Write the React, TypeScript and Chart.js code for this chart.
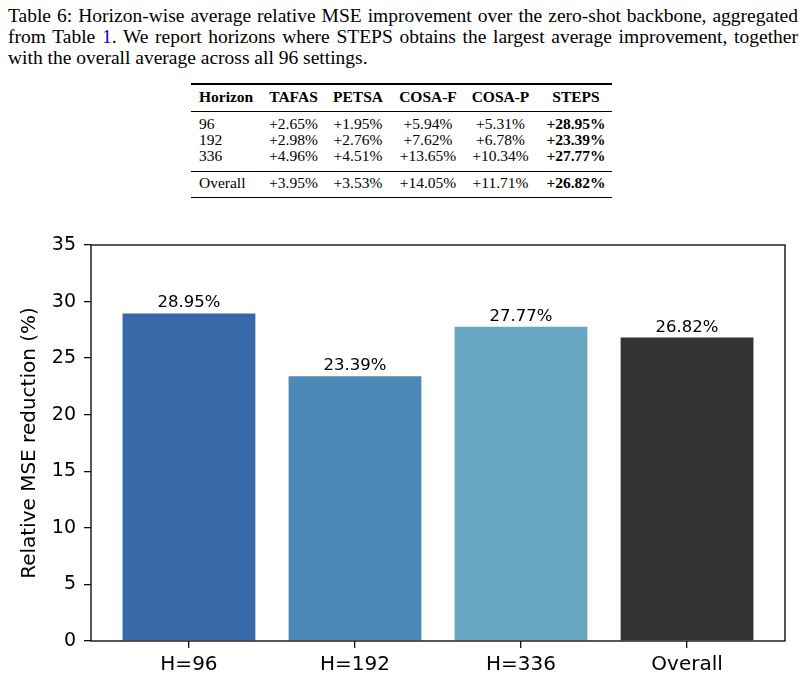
import React, { useEffect, useRef } from "react";
import { Chart, registerables } from "chart.js";

Chart.register(...registerables);

// ---- table data ----
const methods = ["TAFAS", "PETSA", "COSA-F", "COSA-P", "STEPS"];
const horizons = ["96", "192", "336"];
const tafas = [2.65, 2.98, 4.96];
const petsa = [1.95, 2.76, 4.51];
const cosaF = [5.94, 7.62, 13.65];
const cosaP = [5.31, 6.78, 10.34];
const steps = [28.95, 23.39, 27.77];
const overall = [3.95, 3.53, 14.05, 11.71, 26.82];

// ---- chart data ----
const barLabels = ["H=96", "H=192", "H=336", "Overall"];
const barValues = [28.95, 23.39, 27.77, 26.82];
const barColors = ["#3769a9", "#4d89b7", "#68a7bf", "#333333"];
const yTicks = [0, 5, 10, 15, 20, 25, 30, 35];

const SERIF = '"Liberation Serif", "Times New Roman", serif';
const SANS = '"DejaVu Sans", sans-serif';

const fmt = (v: number) => `+${v.toFixed(2)}%`;

// horizontal centres of the method columns, left edge of the first column
const colLeft = 199;
const colCenters = [293.5, 358, 428, 500.5, 576];
const rowBaselines = [129, 145, 161];
const headerBaseline = 102.5;
const overallBaseline = 188.5;

function Cell(props: { text: string; baseline: number; center?: number; left?: number; bold?: boolean }) {
  const { text, baseline, center, left, bold } = props;
  const style: React.CSSProperties = {
    position: "absolute",
    top: baseline - 13.5,
    lineHeight: "16px",
    fontSize: 15.5,
    fontFamily: SERIF,
    fontWeight: bold ? 700 : 400,
    whiteSpace: "nowrap",
    color: "#000",
  };
  if (center !== undefined) {
    style.left = center - 60;
    style.width = 120;
    style.textAlign = "center";
  } else {
    style.left = left;
  }
  return <div style={style}>{text}</div>;
}

function Rule(props: { y: number; h: number }) {
  return (
    <div
      style={{
        position: "absolute",
        left: 191,
        width: 421,
        top: props.y - props.h / 2,
        height: props.h,
        background: "#000",
      }}
    />
  );
}

function Caption() {
  const base: React.CSSProperties = {
    position: "absolute",
    left: 8,
    width: 790,
    fontFamily: SERIF,
    fontSize: 19.5,
    lineHeight: "21px",
    color: "#000",
  };
  const justified: React.CSSProperties = {
    ...base,
    textAlign: "justify",
    textAlignLast: "justify",
    wordSpacing: "-3px",
  };
  return (
    <>
      <div style={{ ...justified, top: 4.5 }}>
        Table 6: Horizon-wise average relative MSE improvement over the zero-shot backbone, aggregated
      </div>
      <div style={{ ...justified, top: 25.5 }}>
        from Table <span style={{ color: "#0000ee" }}>1</span>. We report horizons where STEPS obtains the largest
        average improvement, together
      </div>
      <div style={{ ...base, top: 46.5 }}>with the overall average across all 96 settings.</div>
    </>
  );
}

function ResultsTable() {
  const cols = [tafas, petsa, cosaF, cosaP, steps];
  return (
    <>
      <Rule y={84} h={1.6} />
      <Cell text="Horizon" baseline={headerBaseline} left={colLeft} bold />
      {methods.map((m, j) => (
        <Cell key={m} text={m} baseline={headerBaseline} center={colCenters[j]} bold />
      ))}
      <Rule y={111} h={1} />
      {horizons.map((h, i) => (
        <React.Fragment key={h}>
          <Cell text={h} baseline={rowBaselines[i]} left={colLeft} />
          {cols.map((c, j) => (
            <Cell
              key={j}
              text={fmt(c[i])}
              baseline={rowBaselines[i]}
              center={colCenters[j]}
              bold={j === cols.length - 1}
            />
          ))}
        </React.Fragment>
      ))}
      <Rule y={171} h={1} />
      <Cell text="Overall" baseline={overallBaseline} left={colLeft} />
      {overall.map((v, j) => (
        <Cell
          key={j}
          text={fmt(v)}
          baseline={overallBaseline}
          center={colCenters[j]}
          bold={j === overall.length - 1}
        />
      ))}
      <Rule y={197.5} h={1.6} />
    </>
  );
}

// value labels above bars and the closed axes frame
const barValueLabels = {
  id: "barValueLabels",
  afterDatasetsDraw(chart: any) {
    const ctx = chart.ctx;
    const meta = chart.getDatasetMeta(0);
    ctx.save();
    ctx.font = `16.5px ${SANS}`;
    ctx.fillStyle = "#000";
    ctx.textAlign = "center";
    ctx.textBaseline = "alphabetic";
    meta.data.forEach((el: any, i: number) => {
      ctx.fillText(`${barValues[i].toFixed(2)}%`, el.x, el.y - 6);
    });
    ctx.restore();
  },
  afterDraw(chart: any) {
    const { ctx, chartArea } = chart;
    ctx.save();
    ctx.strokeStyle = "#111";
    ctx.lineWidth = 1.4;
    ctx.strokeRect(chartArea.left, chartArea.top, chartArea.right - chartArea.left, chartArea.bottom - chartArea.top);
    ctx.restore();
  },
};

function BarChart() {
  const ref = useRef<HTMLCanvasElement>(null);
  useEffect(() => {
    if (!ref.current) return;
    const chart = new Chart(ref.current, {
      type: "bar",
      data: {
        datasets: [
          {
            data: barValues.map((v, i) => ({ x: i, y: v })),
            backgroundColor: barColors,
            borderWidth: 0,
            categoryPercentage: 1,
            barPercentage: 0.8,
          },
        ],
      },
      plugins: [barValueLabels],
      options: {
        responsive: false,
        animation: false,
        devicePixelRatio: 1,
        layout: { padding: { top: 35, right: 21, left: 0, bottom: 0 } },
        plugins: { legend: { display: false }, tooltip: { enabled: false } },
        scales: {
          x: {
            type: "linear",
            offset: false,
            min: -0.59,
            max: barLabels.length - 1 + 0.59,
            afterBuildTicks: (scale: any) => {
              scale.ticks = barLabels.map((_, i) => ({ value: i }));
            },
            afterFit: (scale: any) => {
              scale.height = 37;
            },
            border: { display: false },
            grid: {
              offset: false,
              drawOnChartArea: false,
              drawTicks: true,
              tickLength: 7,
              tickColor: "#111",
              lineWidth: 1.3,
            },
            ticks: {
              padding: 5,
              color: "#000",
              font: { family: SANS, size: 20 },
              maxRotation: 0,
              autoSkip: false,
              callback: (v: any) => barLabels[Number(v)] ?? "",
            },
          },
          y: {
            min: 0,
            max: 35,
            afterBuildTicks: (scale: any) => {
              scale.ticks = yTicks.map((v) => ({ value: v }));
            },
            afterFit: (scale: any) => {
              scale.width = 91;
            },
            border: { display: false },
            grid: {
              drawOnChartArea: false,
              drawTicks: true,
              tickLength: 7,
              tickColor: "#111",
              lineWidth: 1.3,
            },
            ticks: {
              padding: 8,
              color: "#000",
              font: { family: SANS, size: 19 },
            },
            title: {
              display: true,
              text: "Relative MSE reduction (%)",
              color: "#000",
              font: { family: SANS, size: 20 },
              padding: { top: 18, bottom: 0 },
            },
          },
        },
      },
    });
    return () => chart.destroy();
  }, []);
  return (
    <canvas
      ref={ref}
      width={806}
      height={468}
      style={{ position: "absolute", left: 0, top: 210, width: 806, height: 468 }}
    />
  );
}

export default function App() {
  return (
    <div
      style={{
        position: "absolute",
        left: 0,
        top: 0,
        width: 806,
        height: 678,
        background: "#fff",
        overflow: "hidden",
      }}
    >
      <Caption />
      <ResultsTable />
      <BarChart />
    </div>
  );
}
